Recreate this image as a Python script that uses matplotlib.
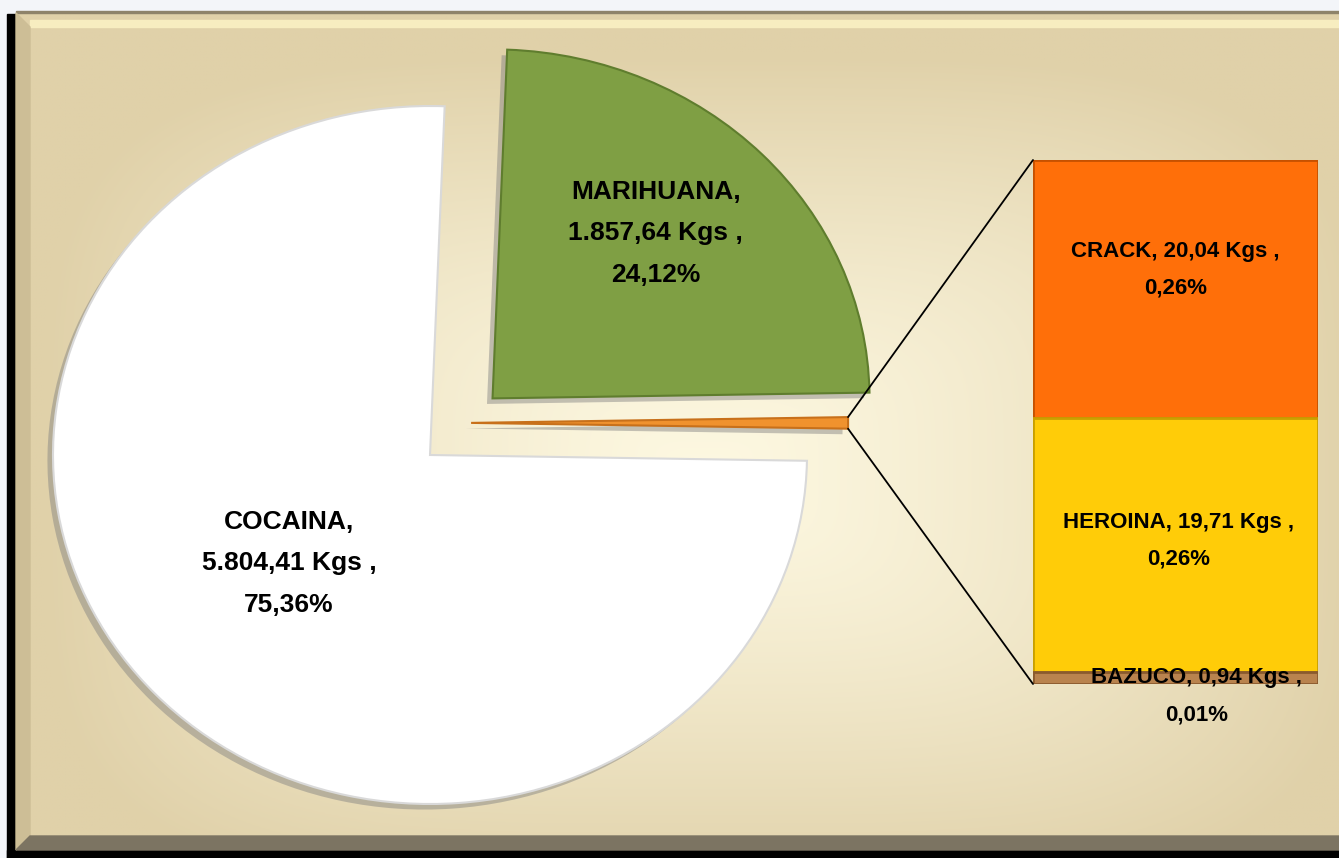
import matplotlib
matplotlib.use("Agg")
import matplotlib.pyplot as plt
import matplotlib.patheffects as pe
from matplotlib.patches import ConnectionPatch, Rectangle, Polygon
from matplotlib.colors import to_rgb
import numpy as np

# data (Kgs)
pie_names = ["COCAINA", "MARIHUANA"]
pie_kgs = [5804.41, 1857.64]
bar_names = ["CRACK", "HEROINA", "BAZUCO"]
bar_kgs = [20.04, 19.71, 0.94]

pie_colors = ["#FFFFFF", "#7F9F44"]
pie_edges = ["#D9D9D9", "#5F7D2E"]
other_color = "#F0922E"
bar_colors = ["#FF6F09", "#FFCC08", "#B9834E"]
bar_edges = ["#C65100", "#C9A000", "#8A5A2E"]

W, H = 1339, 858
total = sum(pie_kgs) + sum(bar_kgs)
bar_total = sum(bar_kgs)


def es(v):
    s = f"{v:,.2f}"
    return s.replace(",", "X").replace(".", ",").replace("X", ".")


plt.rcParams['font.family'] = ['Liberation Sans', 'DejaVu Sans']
fig = plt.figure(figsize=(W / 100, H / 100), dpi=100)
fig.patch.set_facecolor("#F3F5F9")

# ---- background frame ----
bg = fig.add_axes([0, 0, 1, 1])
bg.set_xlim(0, W)
bg.set_ylim(H, 0)
bg.axis("off")
yy, xx = np.mgrid[0:1:300j, 0:1:500j]
d = ((np.abs(xx - 0.52) / 0.5) ** 4 + (np.abs(yy - 0.55) / 0.5) ** 4) ** 0.25
d = np.clip(d, 0, 1) ** 1.3
c0 = np.array(to_rgb("#FDF8E1"))
c1 = np.array(to_rgb("#E0D1A9"))
img = c0 + (c1 - c0) * d[..., None]
bg.imshow(img, extent=(16, W, 851, 11), aspect="auto", zorder=0)
bg.add_patch(Rectangle((7, 14), 9, H - 14, color="black", zorder=1))
bg.add_patch(Rectangle((7, 850), W, 8, color="black", zorder=1))
bg.add_patch(Rectangle((16, 11), W, 2, color="#8E836A", zorder=1))
bg.add_patch(Rectangle((30, 20), W, 7, color="#F7EDC0", zorder=1))
bg.add_patch(Polygon([(16, 13), (30, 27), (30, 838), (16, 850)], closed=True,
                     color="#CDBE96", zorder=1))
bg.add_patch(Polygon([(16, 850), (30, 836), (W, 836), (W, 850)], closed=True,
                     color="#7C7462", zorder=1))

# ---- pie ----
cx, cy, rx, ry = 430, 455, 377, 349
ax = fig.add_axes([0, 0, 1, 1])
vals = [bar_total, pie_kgs[1], pie_kgs[0]]
start = -180 * vals[0] / total
wedges, _ = ax.pie(vals, colors=[other_color, pie_colors[1], pie_colors[0]],
                   startangle=start, explode=[0.1, 0.232, 0],
                   wedgeprops=dict(linewidth=1.5))
ax.set_aspect("auto")
ax.set_xlim(-cx / rx, (W - cx) / rx)
ax.set_ylim(-(H - cy) / ry, cy / ry)
ax.axis("off")
wedges[0].set_center((0.109, 0.092))
wedges[0].set_edgecolor("#C8701A")
wedges[1].set_edgecolor(pie_edges[1])
wedges[2].set_edgecolor(pie_edges[0])
shadow = [pe.SimplePatchShadow(offset=(-4, -4), shadow_rgbFace="#7F7F7F", alpha=0.45),
          pe.Normal()]
for w in wedges:
    w.set_path_effects(shadow)

for w, name, kg, rf, dy in [(wedges[2], pie_names[0], pie_kgs[0], 0.48, 0.02),
                            (wedges[1], pie_names[1], pie_kgs[1], 0.64, 0.025)]:
    mid = np.deg2rad((w.theta1 + w.theta2) / 2)
    px = w.center[0] + rf * np.cos(mid) - 0.025
    py = w.center[1] + rf * np.sin(mid) + dy
    ax.text(px, py, f"{name},\n{es(kg)} Kgs ,\n{es(kg / total * 100)}%",
            ha="center", va="center", fontsize=19, fontweight="bold",
            linespacing=1.92, color="black")

# ---- stacked bar ----
bax = fig.add_axes([1033 / W, (H - 684) / H, 285 / W, 524 / H])
bottom = bar_total
tops = []
for name, kg, col, ec in zip(bar_names, bar_kgs, bar_colors, bar_edges):
    bottom -= kg
    b = bax.bar(0, kg, bottom=bottom, width=1, color=col, edgecolor=ec, linewidth=2)
    b[0].set_path_effects(shadow)
    tops.append(bottom + kg / 2)
bax.set_xlim(-0.5, 0.5)
bax.set_ylim(0, bar_total)
bax.axis("off")

offsets = [(0, 14), (2, 3), (15, -13)]
for name, kg, yc, off in zip(bar_names, bar_kgs, tops, offsets):
    bax.annotate(f"{name}, {es(kg)} Kgs ,\n{es(kg / total * 100)}%", (0, yc),
                 xytext=off, textcoords="offset points", ha="center", va="center",
                 fontsize=16, fontweight="bold", linespacing=2.0,
                 annotation_clip=False)

# connector lines
w0 = wedges[0]
for th, yb in [(w0.theta2, bar_total), (w0.theta1, 0)]:
    t = np.deg2rad(th)
    con = ConnectionPatch(xyA=(w0.center[0] + np.cos(t), w0.center[1] + np.sin(t)),
                          coordsA=ax.transData, xyB=(-0.5, yb), coordsB=bax.transData,
                          color="black", lw=1.3)
    fig.add_artist(con)

fig.savefig("out.png", dpi=100)
